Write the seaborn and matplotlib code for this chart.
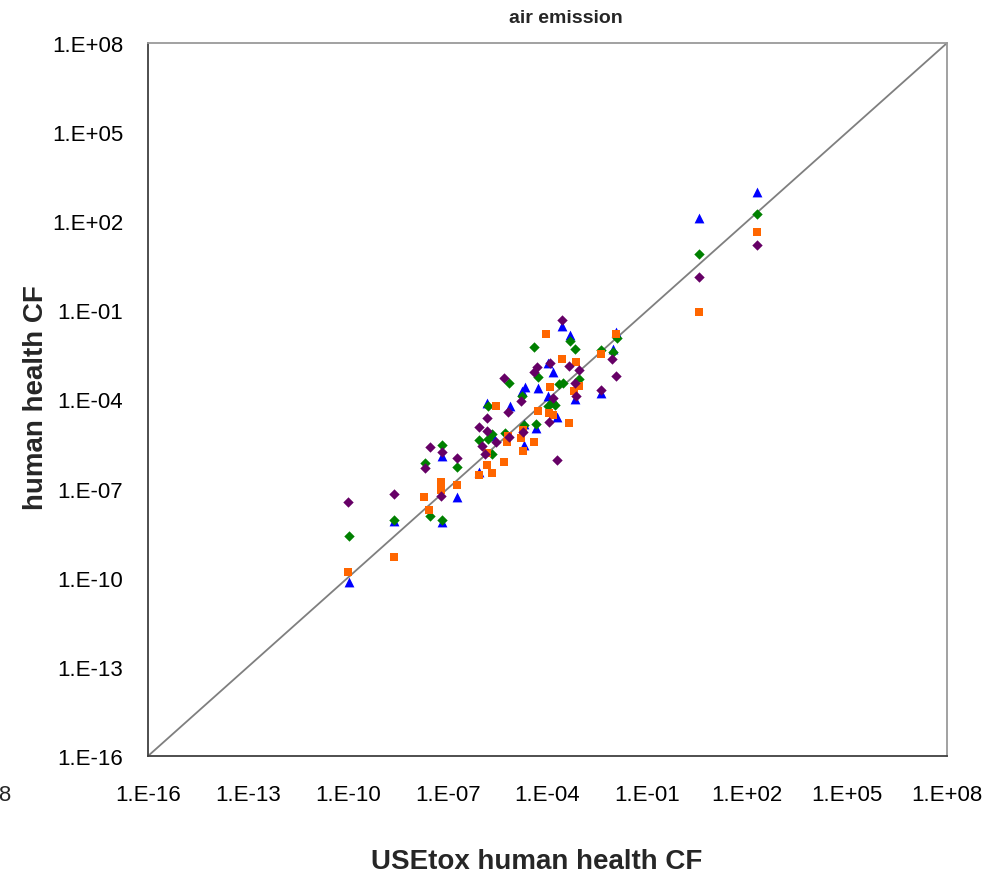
import numpy as np
import pandas as pd
import matplotlib
matplotlib.use("Agg")
import matplotlib.pyplot as plt
from matplotlib.ticker import FixedLocator, FuncFormatter, NullLocator
import seaborn as sns

# log10 of the characterisation factors: x = USEtox, y = compared model
blue_x = [-9.96, -8.61, -7.17, -7.17, -6.72, -6.06, -5.82, -5.64, -5.13, -4.77, -4.68, -4.71, -4.71,
          -4.34, -4.28, -3.98, -3.98, -3.83, -3.71, -3.56, -3.32, -3.17, -2.39, -2.03, -1.94, 0.55, 2.29]
blue_y = [-10.14, -8.09, -5.90, -8.12, -7.28, -6.44, -4.12, -5.23, -4.22, -3.71, -3.58, -5.53, -4.82,
          -4.96, -3.61, -2.77, -3.88, -3.07, -4.59, -1.53, -1.83, -3.98, -3.78, -2.30, -1.73, 2.11, 2.98]

green_x = [-9.96, -8.61, -7.68, -7.53, -7.17, -7.17, -6.72, -6.06, -5.79, -5.79, -5.67, -5.67, -5.28,
           -5.16, -4.77, -4.71, -4.41, -4.34, -4.28, -3.98, -3.86, -3.77, -3.65, -3.53, -3.32, -3.17,
           -3.05, -2.39, -2.03, -1.91, 0.55, 2.29]
green_y = [-8.59, -8.06, -6.14, -7.92, -5.53, -8.06, -6.27, -5.36, -5.33, -4.22, -5.16, -5.83, -5.13,
           -3.44, -3.88, -4.86, -2.23, -4.82, -3.24, -4.22, -4.08, -4.18, -3.48, -3.44, -2.03, -2.30,
           -3.31, -2.33, -2.40, -1.93, 0.90, 2.24]

orange_x = [-9.99, -8.61, -7.71, -7.56, -7.20, -7.20, -6.72, -6.06, -5.82, -5.82, -5.67, -5.55, -5.31,
            -5.22, -5.19, -4.80, -4.74, -4.74, -4.41, -4.28, -4.04, -3.95, -3.92, -3.83, -3.56, -3.35,
            -3.20, -3.14, -3.05, -2.39, -1.94, 0.55, 2.29]
orange_y = [-9.81, -9.30, -7.28, -7.72, -6.78, -7.05, -6.88, -6.54, -5.80, -6.20, -6.47, -4.22, -6.10,
            -5.43, -5.23, -5.30, -5.03, -5.73, -5.43, -4.39, -1.79, -4.45, -3.58, -4.52, -2.64, -4.79,
            -3.71, -2.74, -3.54, -2.47, -1.79, -1.05, 1.64]

purple_x = [-9.99, -8.61, -7.68, -7.53, -7.20, -7.17, -6.72, -6.06, -5.97, -5.88, -5.82, -5.82, -5.55,
            -5.31, -5.19, -5.16, -4.80, -4.74, -4.41, -4.31, -3.95, -3.92, -3.83, -3.71, -3.56, -3.35,
            -3.17, -3.14, -3.05, -2.39, -2.06, -1.94, 0.55, 2.29]
purple_y = [-7.45, -7.18, -6.31, -5.60, -7.25, -5.77, -5.97, -4.92, -5.56, -5.83, -4.62, -5.06, -5.43,
            -3.28, -4.42, -5.26, -4.05, -5.09, -3.07, -2.91, -4.76, -2.77, -3.95, -6.04, -1.32, -2.87,
            -3.44, -3.88, -3.01, -3.68, -2.64, -3.21, 0.12, 1.20]

tick_exponents = [-16, -13, -10, -7, -4, -1, 2, 5, 8]

series = [
    ("s1", blue_x, blue_y),
    ("s2", green_x, green_y),
    ("s3", orange_x, orange_y),
    ("s4", purple_x, purple_y),
]
frames = []
for name, xs, ys in series:
    frames.append(pd.DataFrame({"series": name,
                                "usetox": np.power(10.0, xs),
                                "model": np.power(10.0, ys)}))
df = pd.concat(frames, ignore_index=True)

palette = {"s1": "#0000FF", "s2": "#008000", "s3": "#FF6600", "s4": "#660066"}
markers = {"s1": "^", "s2": "D", "s3": "s", "s4": "D"}
sizes = {"s1": 50, "s2": 28, "s3": 36, "s4": 28}

sns.set_style("white")
plt.rcParams["font.family"] = ["Liberation Sans", "DejaVu Sans"]

fig = plt.figure(figsize=(10.01, 8.78), dpi=100)
ax = fig.add_axes([0.1479, 0.1378, 0.7982, 0.8121])

lo, hi = 1e-16, 1e8
ax.plot([lo, hi], [lo, hi], color="#7f7f7f", lw=1.3, zorder=1)

for name, _, _ in series:
    sub = df[df["series"] == name]
    sns.scatterplot(data=sub, x="usetox", y="model", ax=ax, color=palette[name],
                    marker=markers[name], s=sizes[name], linewidth=0, legend=False, zorder=3)

ax.set_xscale("log")
ax.set_yscale("log")
ax.set_xlim(lo, hi)
ax.set_ylim(lo, hi)

ticks = [10.0 ** e for e in tick_exponents]
fmt = FuncFormatter(lambda v, p: "1.E{:+03d}".format(int(round(np.log10(v)))))
for axis in (ax.xaxis, ax.yaxis):
    axis.set_major_locator(FixedLocator(ticks))
    axis.set_minor_locator(NullLocator())
    axis.set_major_formatter(fmt)

ax.tick_params(axis="both", which="major", direction="out", length=8, width=1.2,
               color="#404040", labelsize=16, labelcolor="black")
ax.tick_params(axis="y", pad=10)
ax.tick_params(axis="x", pad=12)

for side in ("left", "bottom"):
    ax.spines[side].set_color("#404040")
    ax.spines[side].set_linewidth(1.3)
for side in ("top", "right"):
    ax.spines[side].set_color("#9a9a9a")
    ax.spines[side].set_linewidth(1.3)

ax.set_xlabel("")
ax.set_ylabel("")
fig.text(0.536, 0.018, "USEtox human health CF", ha="center", va="center",
         fontsize=20, fontweight="bold")
fig.text(0.036, 0.547, "human health CF", ha="center", va="center", rotation=90,
         fontsize=20, fontweight="bold")
fig.text(0.565, 0.979, "air emission", ha="center", va="center", fontsize=14, fontweight="bold")

# leftover label partly cut off at the figure's left edge
fig.text(0.011, 0.094, "1.E+08", ha="right", va="center", fontsize=16)

fig.savefig("out.png", dpi=100)
